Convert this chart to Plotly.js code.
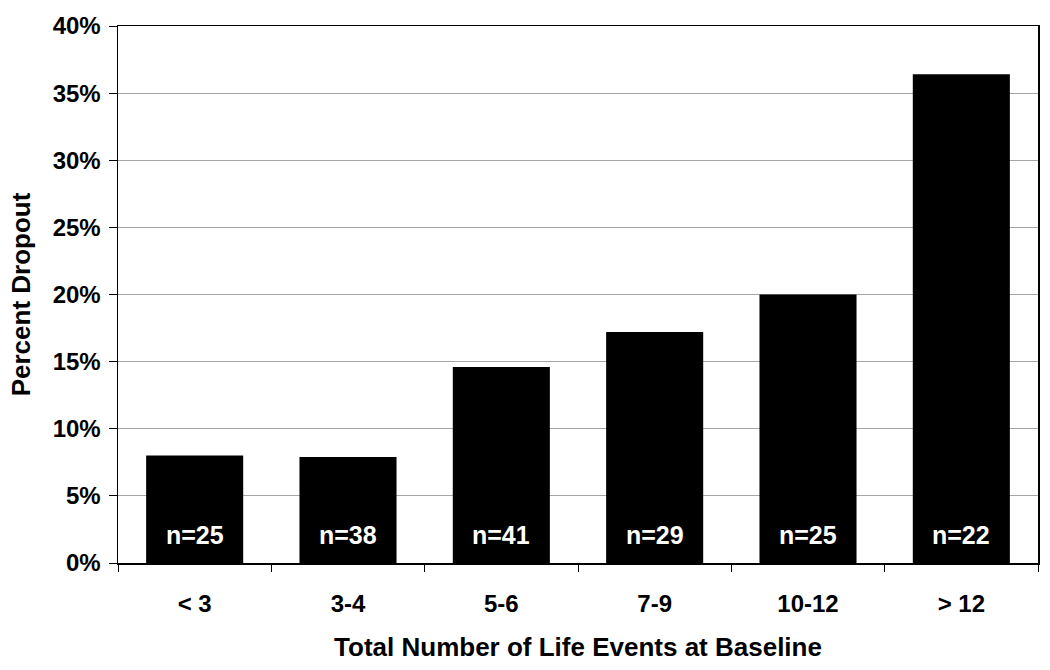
<!DOCTYPE html>
<html>
<head>
<meta charset="utf-8">
<script src="https://cdn.plot.ly/plotly-3.0.1.min.js"></script>
<style>html,body{margin:0;padding:0;background:#fff;}#chart{width:1050px;height:670px;}</style>
</head>
<body>
<div id="chart"></div>
<script>
const categories = ["< 3", "3-4", "5-6", "7-9", "10-12", "> 12"];
const dropoutPct = [8.0, 7.9, 14.6, 17.2, 20.0, 36.4];
const sampleLabels = ["n=25", "n=38", "n=41", "n=29", "n=25", "n=22"];
const yTickVals = [0, 5, 10, 15, 20, 25, 30, 35, 40];
const yTickText = ["0%", "5%", "10%", "15%", "20%", "25%", "30%", "35%", "40%"];

const FONT = "Liberation Sans, Arial, sans-serif";

const trace = {
  type: "bar",
  x: categories,
  y: dropoutPct,
  marker: {color: "#000000", line: {color: "#000000", width: 0}},
  hoverinfo: "x+y"
};

const annotations = categories.map((c, i) => ({
  x: c, y: 0, xref: "x", yref: "y",
  text: "<b>" + sampleLabels[i] + "</b>",
  showarrow: false,
  yanchor: "middle",
  yshift: 28,
  font: {family: FONT, size: 25, color: "#ffffff"}
}));

const layout = {
  width: 1050, height: 670,
  margin: {l: 118, r: 12, t: 26, b: 107},
  paper_bgcolor: "#ffffff",
  plot_bgcolor: "#ffffff",
  showlegend: false,
  bargap: 0.367,
  font: {family: FONT, color: "#000000"},
  xaxis: {
    type: "category",
    tickson: "boundaries",
    ticks: "outside",
    ticklen: 7,
    tickcolor: "#000000",
    tickwidth: 1,
    showline: true, linecolor: "#000000", linewidth: 1.5, mirror: true,
    showgrid: false,
    ticklabelstandoff: 19,
    tickfont: {family: FONT, size: 24, color: "#000000", weight: "bold"},
    title: {text: "<b>Total Number of Life Events at Baseline</b>", font: {family: FONT, size: 26, color: "#000000"}, standoff: 21}
  },
  yaxis: {
    range: [0, 40],
    tickvals: yTickVals,
    ticktext: yTickText,
    ticks: "outside",
    ticklen: 8,
    tickcolor: "#000000",
    tickwidth: 1,
    ticklabelstandoff: 3,
    showline: true, linecolor: "#000000", linewidth: 1.5, mirror: true,
    showgrid: true, gridcolor: "#a6a6a6", gridwidth: 1.2,
    zeroline: false,
    tickfont: {family: FONT, size: 24, color: "#000000", weight: "bold"},
    title: {text: "<b>Percent Dropout</b>", font: {family: FONT, size: 26, color: "#000000"}, standoff: 14}
  },
  annotations: annotations
};

Plotly.newPlot("chart", [trace], layout, {displayModeBar: false, staticPlot: true});
</script>
</body>
</html>
